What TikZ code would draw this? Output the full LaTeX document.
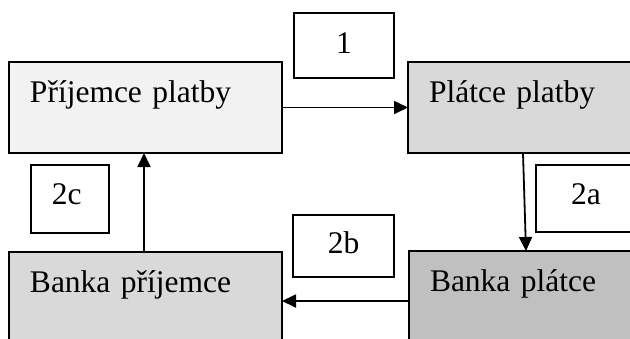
\documentclass[tikz,border=0pt]{standalone}
\usepackage{fontspec}
\setmainfont{Liberation Serif}
\usetikzlibrary{arrows.meta,calc}

\definecolor{paleFill}{HTML}{F2F2F2}
\definecolor{midFill}{HTML}{D9D9D9}
\definecolor{darkFill}{HTML}{C0C0C0}

\tikzset{
  frame/.style={draw=black, line width=1.9pt, rectangle, anchor=north west,
    outer sep=0pt, inner ysep=0pt, align=left,
    font=\fontsize{31.5}{36}\selectfont},
  party/.style={frame, inner xsep=21pt, text width=231pt,
    text height=40pt, text depth=#1},
  tag/.style={frame, fill=white},
  flow/.style={line width=1.8pt, -{Triangle[length=14pt,width=13pt]}}
}

\begin{document}
\begin{tikzpicture}[x=1pt,y=-1pt]
  \clip (0,0) rectangle (630,338);
  \fill[white] (0,0) rectangle (630,338);

  % the four parties
  \node[party=51pt, fill=paleFill] (prijemce) at (9,62)  {Příjemce platby};
  \node[party=51pt, fill=midFill]  (platce)   at (408,62) {Plátce platby};
  \node[party=58pt, fill=midFill]  (bprij)    at (9,252) {Banka příjemce};
  \node[party=58pt, fill=darkFill] (bplat)    at (409,251) {Banka plátce};

  % step numbers
  \node[tag, inner xsep=0pt, text width=100pt, align=center,
        text height=40pt, text depth=25pt] (s1) at (294,13) {1};
  \node[tag, inner xsep=35pt, text width=60pt,
        text height=39pt, text depth=28pt] (s2a) at (536,165) {2a};
  \node[tag, inner xsep=0pt, text width=101pt, align=center,
        text height=38pt, text depth=24pt] (s2b) at (293,215) {2b};
  \node[tag, inner xsep=21pt, text width=36pt,
        text height=39pt, text depth=29pt] (s2c) at (31,165) {2c};

  % payment flow
  \draw[flow] (prijemce.east) -- (platce.west);
  \draw[flow] ($(platce.south west)+(115,0)$) -- ($(bplat.north west)+(117,0)$);
  \draw[flow] ($(bplat.north west)+(0,50)$) -- ($(bprij.north east)+(0,49)$);
  \draw[flow] ($(bprij.north west)+(135,0)$) -- ($(prijemce.south west)+(135,0)$);
\end{tikzpicture}
\end{document}
